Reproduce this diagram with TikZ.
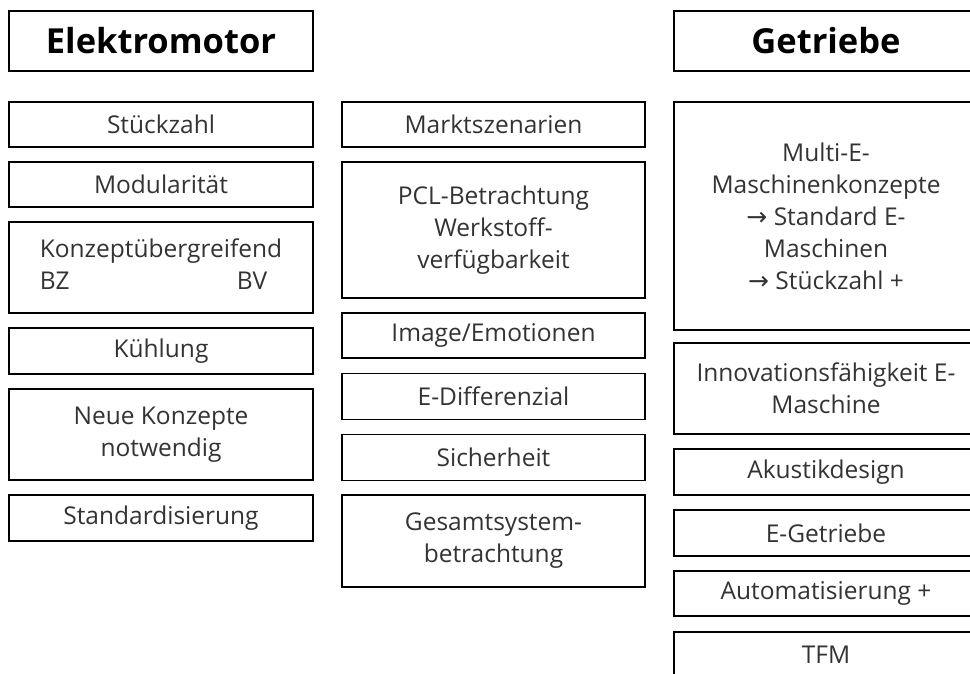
\documentclass[tikz,border=0pt]{standalone}
\usepackage{fontspec}
\setmainfont{Open Sans}
\newfontfamily\arrowfont{DejaVu Sans}
\newcommand{\ra}{{\arrowfont\fontsize{25}{32}\selectfont →}}
\begin{document}
\begin{tikzpicture}[x=1pt,y=-1pt,
  box/.style={draw=black, line width=1.6pt, rectangle, inner sep=0pt,
    align=center, text=black!80, font=\fontsize{24.5}{32}\selectfont},
  headbox/.style={box, font=\fontsize{34.5}{40}\selectfont\bfseries, text=black},
  colL/.style={minimum width=304},
  colM/.style={minimum width=303},
  colR/.style={minimum width=304}]
\useasboundingbox (0,0) rectangle (970,673);
\clip (0,0) rectangle (970,673);

% Elektromotor column
\node[headbox, colL, minimum height=60] (em)   at (161,41)    {Elektromotor};
\node[box, colL, minimum height=45] (stk)      at (161,124.5) {Stückzahl};
\node[box, colL, minimum height=45] (mod)      at (161,184.5) {Modularität};
\node[box, colL, minimum height=91] (konz)     at (161,267.5)
  {\begin{tabular}{@{}l@{}}Konzeptübergreifend\\[0pt] BZ\hfill BV\kern15pt\end{tabular}};
\node[box, colL, minimum height=46] (kuehl)    at (161,351)   {Kühlung};
\node[box, colL, minimum height=91] (neu)      at (161,434.5) {Neue Konzepte\\notwendig};
\node[box, colL, minimum height=46] (std)      at (161,518)   {Standardisierung};

% middle column
\node[box, colM, minimum height=45] (markt)    at (493.5,124.5) {Marktszenarien};
\node[box, colM, minimum height=136] (pcl)     at (493.5,230)   {PCL-Betrachtung\\Werkstoff-\\verfügbarkeit};
\node[box, colM, minimum height=45] (img)      at (493.5,335.5) {Image/Emotionen};
\node[box, colM, minimum height=46] (ediff)    at (493.5,396.5) {E-Differenzial};
\node[box, colM, minimum height=46] (sich)     at (493.5,457.5) {Sicherheit};
\node[box, colM, minimum height=92] (ges)      at (493.5,541)   {Gesamtsystem-\\betrachtung};

% Getriebe column, running past the right page edge
\node[headbox, colR, minimum height=60] (ge)   at (826,41)    {Getriebe};
\node[box, colR, minimum height=228] (multi)   at (826,216)
  {Multi-E-\\Maschinenkonzepte\\\ra{} Standard E-\\Maschinen\\\ra{} Stückzahl +};
\node[box, colR, minimum height=91] (innov)    at (826,388.5) {Innovationsfähigkeit E-\\Maschine};
\node[box, colR, minimum height=46] (akus)     at (826,472)   {Akustikdesign};
\node[box, colR, minimum height=46] (eget)     at (826,533)   {E-Getriebe};
\node[box, colR, minimum height=45] (auto)     at (826,593.5) {Automatisierung +};
\node[box, colR, minimum height=46] (tfm)      at (826,655)   {TFM};
\end{tikzpicture}
\end{document}
